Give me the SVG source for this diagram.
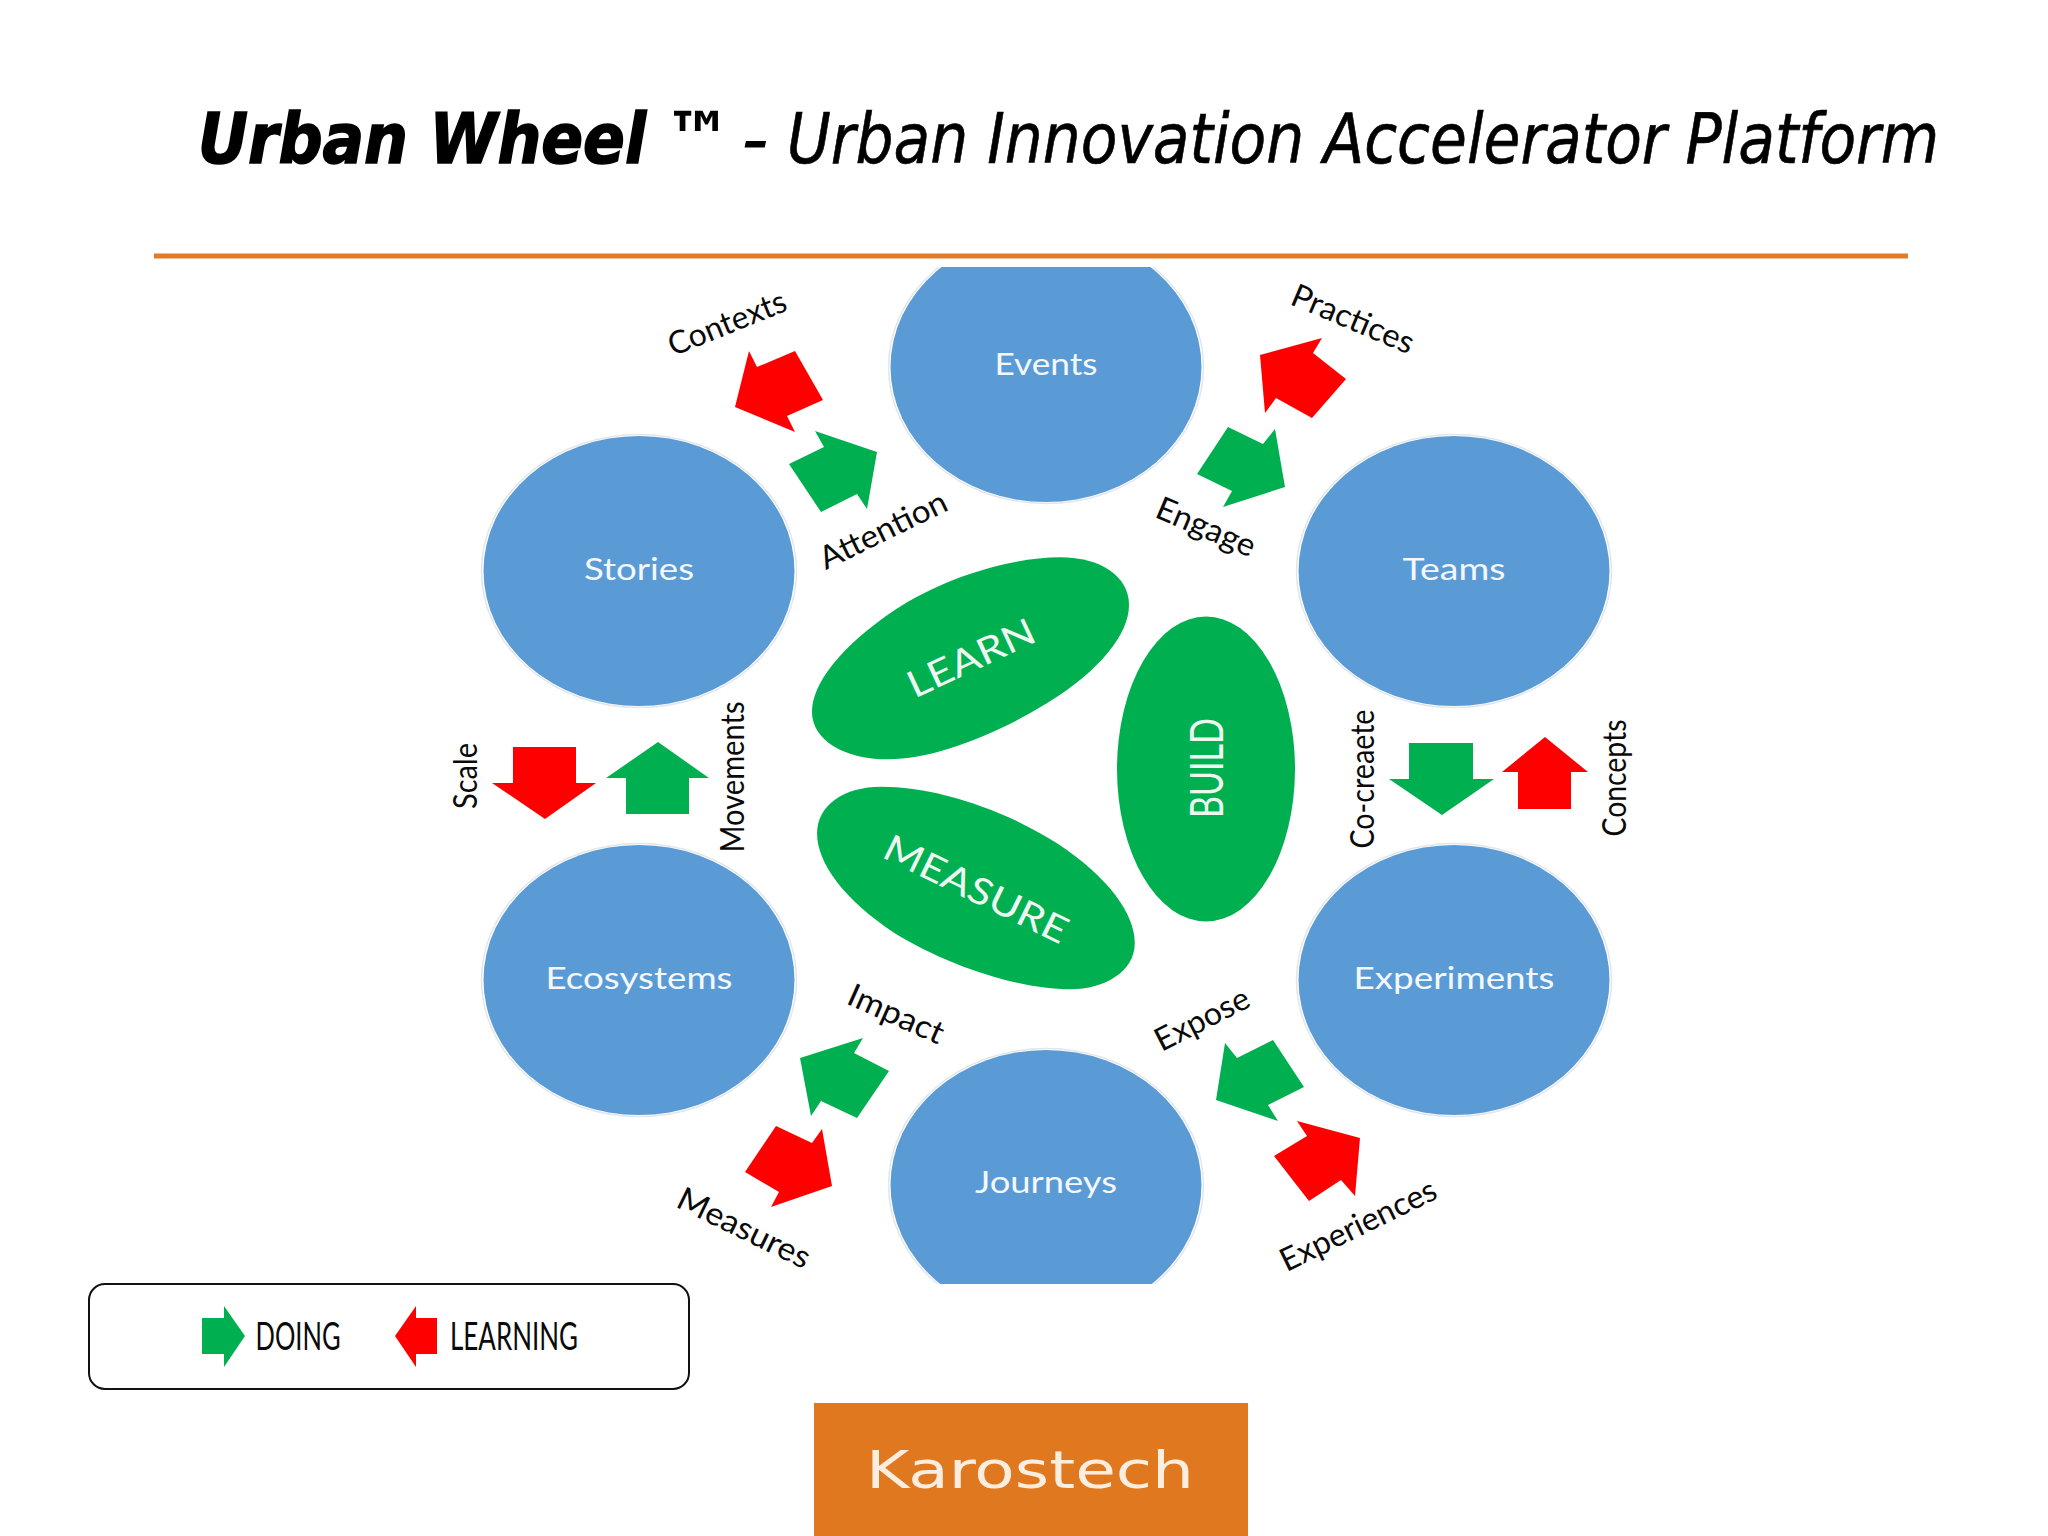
<svg xmlns="http://www.w3.org/2000/svg" width="2048" height="1536" viewBox="0 0 2048 1536">
<style>
.t{font-family:"DejaVu Sans Condensed","DejaVu Sans",sans-serif;font-stretch:condensed;fill:#000}
.c{fill:#5b9bd5}
.r{fill:#fff;stroke:#e2e6ea;stroke-width:1.5}
.l{font-family:Lato,"Open Sans",sans-serif;font-size:31px;fill:#f4f8fc;text-anchor:middle}
.k{font-family:Lato,"Open Sans",sans-serif;font-size:32px;fill:#0a0a0a;text-anchor:middle}
.b{fill:#00b050}
.g{fill:#00b050}
.d{fill:#ff0000}
.u{font-family:Lato,"Open Sans",sans-serif;font-size:37px;fill:#eef8f1;text-anchor:middle}
</style>
<defs>
<clipPath id="top"><rect x="0" y="267" width="2048" height="400"/></clipPath>
<clipPath id="bot"><rect x="0" y="900" width="2048" height="384"/></clipPath>
</defs>
<rect width="2048" height="1536" fill="#fff"/>
<g id="title">
<text class="t" x="198" y="163" font-size="69" font-weight="bold" font-style="italic" stroke="#000" stroke-width="1.5" textLength="448" lengthAdjust="spacingAndGlyphs">Urban Wheel</text>
<text class="t" x="664" y="163" font-size="72" font-weight="bold" font-style="italic" textLength="68" lengthAdjust="spacingAndGlyphs">™</text>
<text class="t" x="742" y="163" font-size="70" font-style="italic" stroke="#000" stroke-width="1" textLength="26" lengthAdjust="spacingAndGlyphs">-</text>
<text class="t" x="787" y="163" font-size="69" font-style="italic" stroke="#000" stroke-width=".6" textLength="1152" lengthAdjust="spacingAndGlyphs">Urban Innovation Accelerator Platform</text>
</g>
<rect id="rule" x="154" y="253.500" width="1754" height="5" fill="#e07b27"/>
<g id="events" clip-path="url(#top)"><ellipse class="r" cx="1046" cy="367" rx="157.500" ry="136.500"/><ellipse class="c" cx="1046" cy="367" rx="155.500" ry="135"/><text class="l" x="1046" y="375" textLength="103" lengthAdjust="spacingAndGlyphs">Events</text></g>
<g id="stories"><ellipse class="r" cx="639" cy="571" rx="157.500" ry="136.500"/><ellipse class="c" cx="639" cy="571" rx="155.500" ry="135"/><text class="l" x="639" y="580" textLength="110" lengthAdjust="spacingAndGlyphs">Stories</text></g>
<g id="teams"><ellipse class="r" cx="1454" cy="571" rx="157.500" ry="136.500"/><ellipse class="c" cx="1454" cy="571" rx="155.500" ry="135"/><text class="l" x="1454" y="580" textLength="103" lengthAdjust="spacingAndGlyphs">Teams</text></g>
<g id="ecosystems"><ellipse class="r" cx="639" cy="980" rx="157.500" ry="136.500"/><ellipse class="c" cx="639" cy="980" rx="155.500" ry="135"/><text class="l" x="639" y="989" textLength="187" lengthAdjust="spacingAndGlyphs">Ecosystems</text></g>
<g id="experiments"><ellipse class="r" cx="1454" cy="980" rx="157.500" ry="136.500"/><ellipse class="c" cx="1454" cy="980" rx="155.500" ry="135"/><text class="l" x="1454" y="989" textLength="201" lengthAdjust="spacingAndGlyphs">Experiments</text></g>
<g id="journeys" clip-path="url(#bot)"><ellipse class="r" cx="1046" cy="1185" rx="157.500" ry="136.500"/><ellipse class="c" cx="1046" cy="1185" rx="155.500" ry="135"/><text class="l" x="1046" y="1193" textLength="142" lengthAdjust="spacingAndGlyphs">Journeys</text></g>
<g id="learn"><path class="b" transform="translate(790 540) scale(.338 .3333)" d="M800,52 C920,52 1003,110 1003,195 C1003,280 920,390 760,490 C600,590 420,658 290,658 C160,658 65,600 65,515 C65,430 150,320 310,210 C450,115 650,52 800,52 Z"/><text class="u" transform="translate(971 658) rotate(-25)" y="13" textLength="137" lengthAdjust="spacingAndGlyphs">LEARN</text></g>
<g id="measure"><path class="b" transform="translate(790 540) scale(.338 .3333)" d="M270,740 C420,740 620,800 790,910 C940,1010 1020,1120 1020,1210 C1020,1295 930,1348 830,1348 C680,1348 470,1280 310,1180 C160,1080 80,970 80,880 C80,795 160,740 270,740 Z"/><text class="u" transform="translate(976 889) rotate(26)" y="13" textLength="200" lengthAdjust="spacingAndGlyphs">MEASURE</text></g>
<g id="build"><ellipse class="b" cx="1206" cy="769" rx="89" ry="152.500"/><text class="u" transform="translate(1206 768) rotate(-90)" y="17" style="font-size:46px" textLength="100" lengthAdjust="spacingAndGlyphs">BUILD</text></g>
<g id="connectors">
<polygon class="d" points="749,351 757,367 795,351 823,400 787,416 795,432 735,407"/>
<polygon class="g" points="815,431 824,447 789,464 821,512 857,494 867,509 877,452"/>
<polygon class="d" points="1260,355 1322,338 1313,353 1346,379 1312,418 1276,398 1265,413"/>
<polygon class="g" points="1228,427 1263,444 1275,429 1285,487 1223,507 1232,491 1197,474"/>
<polygon class="d" points="513,747 576,747 576,783 596,783 545,819 492,783 513,783"/>
<polygon class="g" points="658,742 709,778 689,778 689,814 626,814 626,778 606,778"/>
<polygon class="g" points="1409,743 1473,743 1473,779 1494,779 1442,815 1389,779 1409,779"/>
<polygon class="d" points="1545,737 1588,772 1571,772 1571,809 1518,809 1518,772 1502,772"/>
<polygon class="g" points="863,1038 854,1053 889,1071 857,1118 821,1101 811,1116 800,1058"/>
<polygon class="d" points="776,1126 812,1143 822,1129 832,1186 771,1207 779,1192 745,1172"/>
<polygon class="g" points="1225,1043 1237,1058 1273,1040 1304,1087 1268,1105 1278,1121 1216,1100"/>
<polygon class="d" points="1297,1121 1360,1138 1355,1196 1341,1180 1309,1201 1274,1156 1307,1136"/>
</g>
<g id="connector-labels">
<text class="k" transform="translate(727 323) rotate(-22)" y="11" textLength="125" lengthAdjust="spacingAndGlyphs">Contexts</text>
<text class="k" transform="translate(1353 319) rotate(23)" y="11" textLength="130" lengthAdjust="spacingAndGlyphs">Practices</text>
<text class="k" transform="translate(883 530) rotate(-26)" y="11" textLength="138" lengthAdjust="spacingAndGlyphs">Attention</text>
<text class="k" transform="translate(1206 527) rotate(23)" y="11" textLength="105" lengthAdjust="spacingAndGlyphs">Engage</text>
<text class="k" transform="translate(477 776) rotate(-90)" textLength="66" lengthAdjust="spacingAndGlyphs">Scale</text>
<text class="k" transform="translate(744 777) rotate(-90)" textLength="151" lengthAdjust="spacingAndGlyphs">Movements</text>
<text class="k" transform="translate(1374 779) rotate(-90)" textLength="139" lengthAdjust="spacingAndGlyphs">Co-creaete</text>
<text class="k" transform="translate(1626 778) rotate(-90)" textLength="117" lengthAdjust="spacingAndGlyphs">Concepts</text>
<text class="k" transform="translate(896 1014) rotate(24)" y="11" textLength="102" lengthAdjust="spacingAndGlyphs">Impact</text>
<text class="k" transform="translate(1202 1019) rotate(-27)" y="11" textLength="102" lengthAdjust="spacingAndGlyphs">Expose</text>
<text class="k" transform="translate(744 1228) rotate(26)" y="11" textLength="144" lengthAdjust="spacingAndGlyphs">Measures</text>
<text class="k" transform="translate(1358 1225) rotate(-26)" y="11" textLength="170" lengthAdjust="spacingAndGlyphs">Experiences</text>
</g>
<g id="legend">
<rect x="89" y="1284" width="600" height="105" rx="16" fill="#fff" stroke="#111" stroke-width="2"/>
<polygon class="g" points="202,1318 224,1318 224,1306 245,1336 224,1367 224,1354 202,1354"/>
<text x="298" y="1350" class="k" style="font-size:38px" textLength="85" lengthAdjust="spacingAndGlyphs">DOING</text>
<polygon class="d" points="437,1318 416,1318 416,1306 395,1336 416,1367 416,1354 437,1354"/>
<text x="514" y="1350" class="k" style="font-size:38px" textLength="128" lengthAdjust="spacingAndGlyphs">LEARNING</text>
</g>
<g id="logo">
<rect x="814" y="1403" width="434" height="133" fill="#e0781f"/>
<text x="866" y="1488" font-family="'DejaVu Sans',sans-serif" font-size="52" fill="#fbeee0" textLength="328" lengthAdjust="spacingAndGlyphs">Karostech</text>
</g>
</svg>
